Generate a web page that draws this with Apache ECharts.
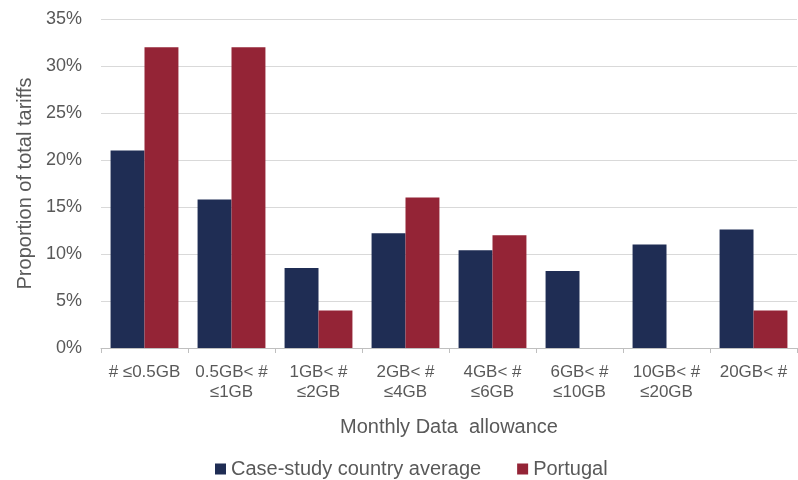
<!DOCTYPE html>
<html>
<head>
<meta charset="utf-8">
<script src="https://cdn.jsdelivr.net/npm/echarts@6/dist/echarts.min.js"></script>
<style>
  html, body { margin: 0; padding: 0; background: #fff; }
  #chart { width: 798px; height: 480px; }
</style>
</head>
<body>
<div id="chart"></div>
<script>
const categories = [
  '# \u22640.5GB',
  '0.5GB< #\n\u22641GB',
  '1GB< #\n\u22642GB',
  '2GB< #\n\u22644GB',
  '4GB< #\n\u22646GB',
  '6GB< #\n\u226410GB',
  '10GB< #\n\u226420GB',
  '20GB< #'
]
const caseStudyAvg = [21.0, 15.8, 8.5, 12.2, 10.4, 8.2, 11.0, 12.6]
const portugal = [32.0, 32.0, 4.0, 16.0, 12.0, 0, 0, 4.0]
const seriesNames = ['Case-study country average', 'Portugal']

const textColor = '#595959'
const fontFamily = '"Liberation Sans", Arial, sans-serif'

const chart = echarts.init(document.getElementById('chart'), null, { renderer: 'canvas' })

const option = {
  backgroundColor: '#fff',
  animation: false,
  textStyle: { fontFamily: fontFamily, color: textColor },
  legend: {
    data: seriesNames,
    left: 210,
    top: 454,
    itemWidth: 11,
    itemHeight: 11,
    itemGap: 36,
    icon: 'rect',
    textStyle: { fontSize: 20, color: textColor, fontFamily: fontFamily }
  },
  grid: {
    left: 101,
    right: 1,
    top: 19,
    bottom: 132,
    containLabel: false
  },
  xAxis: {
    type: 'category',
    data: categories,
    name: 'Monthly Data  allowance',
    nameLocation: 'middle',
    nameGap: 69,
    nameTextStyle: { fontSize: 20, color: textColor },
    axisLine: { lineStyle: { color: '#bfbfbf', width: 1 } },
    axisTick: { show: true, length: 5, lineStyle: { color: '#bfbfbf' } },
    axisLabel: {
      color: textColor,
      fontSize: 17,
      lineHeight: 20,
      margin: 14,
      interval: 0
    }
  },
  yAxis: {
    type: 'value',
    min: 0,
    max: 35,
    interval: 5,
    name: 'Proportion of total tariffs',
    nameLocation: 'middle',
    nameGap: 65,
    nameTextStyle: { fontSize: 20, color: textColor },
    axisLine: { show: false },
    axisTick: { show: false },
    splitLine: { lineStyle: { color: '#d9d9d9', width: 1 } },
    axisLabel: {
      color: textColor,
      fontSize: 18,
      margin: 19,
      formatter: (val) => `${val}%`
    }
  },
  series: [
    {
      name: seriesNames[0],
      type: 'bar',
      data: caseStudyAvg,
      barGap: '0%',
      barCategoryGap: '22%',
      itemStyle: { color: '#1f2d54' }
    },
    {
      name: seriesNames[1],
      type: 'bar',
      data: portugal,
      barGap: '0%',
      barCategoryGap: '22%',
      itemStyle: { color: '#942436' }
    }
  ]
}

chart.setOption(option)
</script>
</body>
</html>
